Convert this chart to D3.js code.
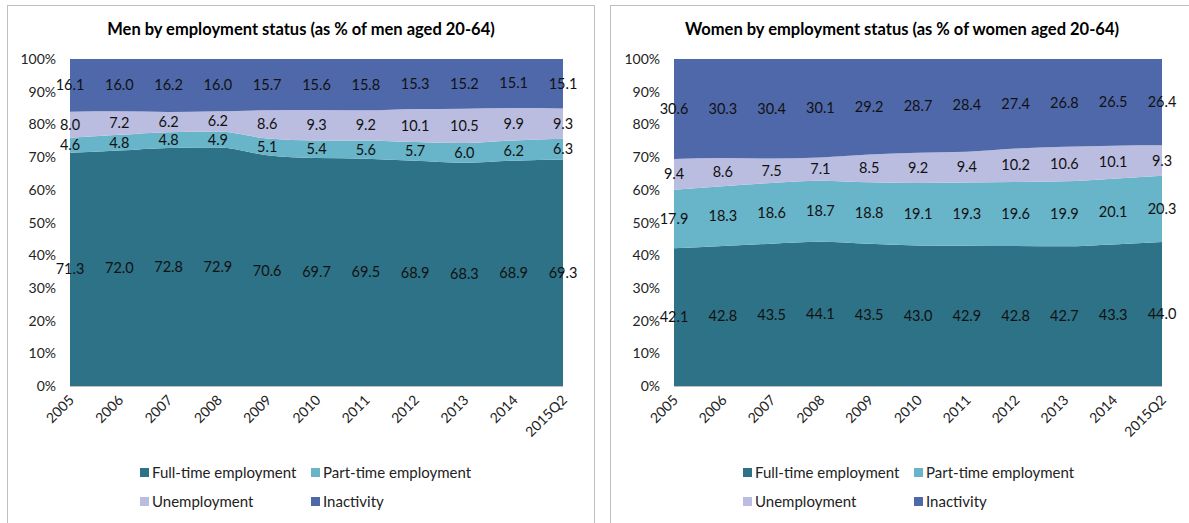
<!DOCTYPE html>
<html>
<head>
<meta charset="utf-8">
<script src="https://cdn.jsdelivr.net/npm/d3@7"></script>
<style>
  body { margin: 0; background: #fff; }
  svg { display: block; font-family: Lato, "Open Sans", sans-serif; }
</style>
</head>
<body>
<svg width="1189" height="523"></svg>
<script>
let years = ["2005", "2006", "2007", "2008", "2009", "2010", "2011", "2012", "2013", "2014", "2015Q2"]
let seriesNames = ["Full-time employment", "Part-time employment", "Unemployment", "Inactivity"]
let colors = ["#2d7286", "#68b4c8", "#bbbde0", "#4f68aa"]
let yTicks = [0, 10, 20, 30, 40, 50, 60, 70, 80, 90, 100]

// men
let menFull = [71.3, 72.0, 72.8, 72.9, 70.6, 69.7, 69.5, 68.9, 68.3, 68.9, 69.3]
let menPart = [4.6, 4.8, 4.8, 4.9, 5.1, 5.4, 5.6, 5.7, 6.0, 6.2, 6.3]
let menUnemp = [8.0, 7.2, 6.2, 6.2, 8.6, 9.3, 9.2, 10.1, 10.5, 9.9, 9.3]
let menInact = [16.1, 16.0, 16.2, 16.0, 15.7, 15.6, 15.8, 15.3, 15.2, 15.1, 15.1]

// women
let womenFull = [42.1, 42.8, 43.5, 44.1, 43.5, 43.0, 42.9, 42.8, 42.7, 43.3, 44.0]
let womenPart = [17.9, 18.3, 18.6, 18.7, 18.8, 19.1, 19.3, 19.6, 19.9, 20.1, 20.3]
let womenUnemp = [9.4, 8.6, 7.5, 7.1, 8.5, 9.2, 9.4, 10.2, 10.6, 10.1, 9.3]
let womenInact = [30.6, 30.3, 30.4, 30.1, 29.2, 28.7, 28.4, 27.4, 26.8, 26.5, 26.4]

let svg = d3.select('svg')

drawPanel({
    title: "Men by employment status (as % of men aged 20-64)",
    series: [menFull, menPart, menUnemp, menInact],
    box: [7.5, 5.5, 587, 530],
    plot: { left: 70, right: 563, top: 59, bottom: 386 },
    titleX: 301,
    legendX: 140
})

drawPanel({
    title: "Women by employment status (as % of women aged 20-64)",
    series: [womenFull, womenPart, womenUnemp, womenInact],
    box: [610.5, 5.5, 600, 530],
    plot: { left: 674, right: 1162, top: 59, bottom: 386 },
    titleX: 902,
    legendX: 743
})

function drawPanel(cfg) {
    let g = svg.append('g')

    g.append('rect')
        .attr('x', cfg.box[0]).attr('y', cfg.box[1])
        .attr('width', cfg.box[2]).attr('height', cfg.box[3])
        .attr('fill', 'none')
        .attr('stroke', '#bfbfbf')

    let p = cfg.plot

    g.append('text')
        .attr('x', cfg.titleX).attr('y', 35)
        .attr('text-anchor', 'middle')
        .attr('font-size', 16.5)
        .attr('font-weight', 'bold')
        .text(cfg.title)

    let rows = years.map((yr, i) => {
        let r = { year: yr }
        seriesNames.forEach((s, k) => r[s] = cfg.series[k][i])
        return r
    })

    let stacked = d3.stack().keys(seriesNames)(rows)

    let x = d3.scalePoint().domain(years).range([p.left, p.right])
    let y = d3.scaleLinear().domain([0, 100]).range([p.bottom, p.top])

    let area = d3.area()
        .x(d => x(d.data.year))
        .y0(d => y(d[0]))
        .y1(d => y(Math.min(100, d[1])))
        .curve(d3.curveMonotoneX)

    g.selectAll('path.band')
        .data(stacked)
        .enter().append('path')
        .attr('class', 'band')
        .attr('d', area)
        .attr('fill', (d, i) => colors[i])

    // y axis labels
    g.selectAll('text.ytick')
        .data(yTicks)
        .enter().append('text')
        .attr('x', p.left - 14)
        .attr('y', d => y(d) + 5)
        .attr('text-anchor', 'end')
        .attr('font-size', 14)
        .attr('fill', '#222')
        .text(d => d + '%')

    // x axis line
    g.append('line')
        .attr('x1', p.left).attr('x2', p.right)
        .attr('y1', p.bottom + 0.5).attr('y2', p.bottom + 0.5)
        .attr('stroke', '#bfbfbf')

    // x labels rotated
    g.selectAll('text.xtick')
        .data(years)
        .enter().append('text')
        .attr('transform', d => `translate(${x(d) + 5},${p.bottom + 15}) rotate(-45)`)
        .attr('text-anchor', 'end')
        .attr('font-size', 14)
        .attr('fill', '#222')
        .text(d => d)

    // data labels
    stacked.forEach(layer => {
        g.selectAll(null)
            .data(layer)
            .enter().append('text')
            .attr('x', d => x(d.data.year))
            .attr('y', d => y((d[0] + d[1]) / 2) + 5)
            .attr('text-anchor', 'middle')
            .attr('font-size', 14.5)
            .attr('fill', '#111')
            .text(d => d.data[layer.key].toFixed(1))
    })

    // legend
    let lg = g.append('g')
    seriesNames.forEach((s, i) => {
        let lx = cfg.legendX + (i % 2) * 171
        let ly = 474 + Math.floor(i / 2) * 29
        lg.append('rect')
            .attr('x', lx).attr('y', ly - 6)
            .attr('width', 9).attr('height', 9)
            .attr('fill', colors[i])
        lg.append('text')
            .attr('x', lx + 12).attr('y', ly + 4)
            .attr('font-size', 15)
            .attr('fill', '#222')
            .text(s)
    })
}
</script>
</body>
</html>
